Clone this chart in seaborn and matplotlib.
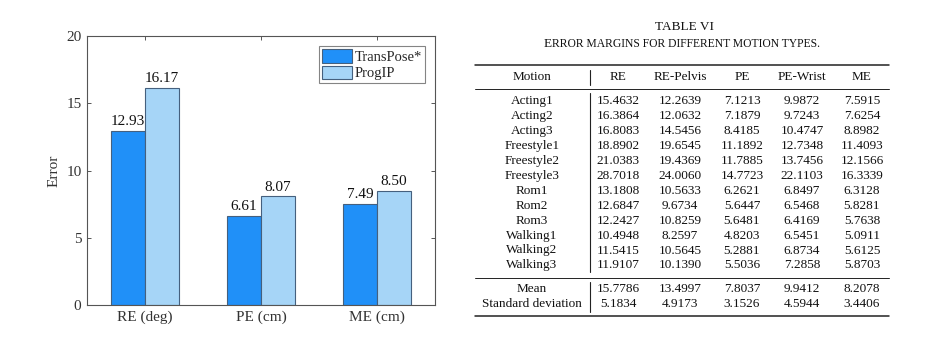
import matplotlib
matplotlib.use("Agg")
import matplotlib.pyplot as plt
import seaborn as sns
import pandas as pd

# ---------------- data ----------------
metrics = ["RE (deg)", "PE (cm)", "ME (cm)"]
methods = ["TransPose*", "ProgIP"]
transpose_vals = [12.93, 6.61, 7.49]
progip_vals = [16.17, 8.07, 8.50]

table_title = "TABLE VI"
table_caption = "Error margins for different motion types."
col_headers = ["Motion", "RE", "RE-Pelvis", "PE", "PE-Wrist", "ME"]
motions = ["Acting1", "Acting2", "Acting3", "Freestyle1", "Freestyle2", "Freestyle3",
           "Rom1", "Rom2", "Rom3", "Walking1", "Walking2", "Walking3"]
re_vals = ["15.4632", "16.3864", "16.8083", "18.8902", "21.0383", "28.7018",
           "13.1808", "12.6847", "12.2427", "10.4948", "11.5415", "11.9107"]
re_pelvis_vals = ["12.2639", "12.0632", "14.5456", "19.6545", "19.4369", "24.0060",
                  "10.5633", "9.6734", "10.8259", "8.2597", "10.5645", "10.1390"]
pe_vals = ["7.1213", "7.1879", "8.4185", "11.1892", "11.7885", "14.7723",
           "6.2621", "5.6447", "5.6481", "4.8203", "5.2881", "5.5036"]
pe_wrist_vals = ["9.9872", "9.7243", "10.4747", "12.7348", "13.7456", "22.1103",
                 "6.8497", "6.5468", "6.4169", "6.5451", "6.8734", "7.2858"]
me_vals = ["7.5915", "7.6254", "8.8982", "11.4093", "12.1566", "16.3339",
           "6.3128", "5.8281", "5.7638", "5.0911", "5.6125", "5.8703"]
summary_labels = ["Mean", "Standard deviation"]
summary_rows = [["15.7786", "13.4997", "7.8037", "9.9412", "8.2078"],
                ["5.1834", "4.9173", "3.1526", "4.5944", "3.4406"]]

# ---------------- style ----------------
sns.set_theme(style="white")
plt.rcParams["font.family"] = ["Liberation Serif", "DejaVu Serif"]

W, H = 953, 343
fig = plt.figure(figsize=(W / 100, H / 100), dpi=100)

def ax_rect(l, t, r, b):
    return [l / W, 1 - b / H, (r - l) / W, (b - t) / H]

dark = "#2090f8"
light = "#a6d5f7"
edge = "#45607e"
spine_c = "#555555"

df = pd.DataFrame({
    "metric": metrics * 2,
    "method": [methods[0]] * 3 + [methods[1]] * 3,
    "value": transpose_vals + progip_vals,
})

ax = fig.add_axes(ax_rect(87, 36, 435, 305))
sns.barplot(data=df, x="metric", y="value", hue="method", palette=[dark, light],
            width=0.58, saturation=1, edgecolor=edge, linewidth=0.8, ax=ax)
ax.set_xlim(-0.5, 2.5)
ax.set_ylim(0, 20)
ax.set_yticks([0, 5, 10, 15, 20])
ax.set_xlabel("")
ax.set_ylabel("Error", fontsize=11, color="#333333")
for c in ax.containers:
    ax.bar_label(c, fmt="%.2f", padding=2, fontsize=11, color="#111111")
for s in ax.spines.values():
    s.set_visible(True)
    s.set_color(spine_c)
    s.set_linewidth(0.8)
ax.tick_params(axis="both", direction="in", length=3, width=0.7, color=spine_c,
               top=True, right=True, bottom=True, left=True, labelsize=11,
               labelcolor="#333333", pad=4)
handles, labels = ax.get_legend_handles_labels()
leg = ax.legend(handles, labels, loc="upper right", frameon=True, fancybox=False,
                edgecolor="#666666", fontsize=10.5, handlelength=2.0, handleheight=1.05,
                borderpad=0.2, labelspacing=0.12, handletextpad=0.2,
                borderaxespad=0.7, title=None)
leg.get_frame().set_linewidth(0.8)

# ---------------- table ----------------
tax = fig.add_axes([0, 0, 1, 1])
tax.set_xlim(0, W)
tax.set_ylim(H, 0)
tax.axis("off")

fs = 9.5
tc = "#111111"
tax.text(685, 27.5, table_title, ha="center", va="center", fontsize=9.5, color=tc)
t1 = tax.text(544, 47, table_caption[0].upper(), ha="left", va="baseline",
              fontsize=9.5, color=tc)
tax.annotate(table_caption[1:].upper(), xy=(1, 0), xycoords=t1, ha="left",
             va="bottom", fontsize=8.4, color=tc)

x_left, x_right = 475, 889
col_x = [532, 618, 680, 742, 802, 862]
vline_x = 590

tax.plot([x_left, x_right], [65, 65], color="#222222", lw=1.1)
tax.plot([x_left, x_right], [89, 89], color="#222222", lw=0.7)
for cx, h in zip(col_x, col_headers):
    tax.text(cx, 77, h, ha="center", va="center", fontsize=fs, color=tc)
tax.plot([vline_x, vline_x], [70, 85], color="#222222", lw=0.8)

row_y0, dy = 101, 14.95
cols = [re_vals, re_pelvis_vals, pe_vals, pe_wrist_vals, me_vals]
for i, m in enumerate(motions):
    y = row_y0 + i * dy
    tax.text(col_x[0], y, m, ha="center", va="center", fontsize=fs, color=tc)
    for j, col in enumerate(cols):
        tax.text(col_x[j + 1], y, col[i], ha="center", va="center", fontsize=fs, color=tc)
last_y = row_y0 + (len(motions) - 1) * dy
tax.plot([vline_x, vline_x], [93, last_y + 7], color="#222222", lw=0.8)
tax.plot([x_left, x_right], [277.5, 277.5], color="#222222", lw=0.7)

sum_y = [288.5, 303.7]
for y, lab, vals in zip(sum_y, summary_labels, summary_rows):
    tax.text(col_x[0], y, lab, ha="center", va="center", fontsize=fs, color=tc)
    for j, v in enumerate(vals):
        tax.text(col_x[j + 1], y, v, ha="center", va="center", fontsize=fs, color=tc)
tax.plot([vline_x, vline_x], [282, 312], color="#222222", lw=0.8)
tax.plot([x_left, x_right], [315.7, 315.7], color="#222222", lw=1.1)

fig.savefig("out.png", dpi=100, facecolor="white")
